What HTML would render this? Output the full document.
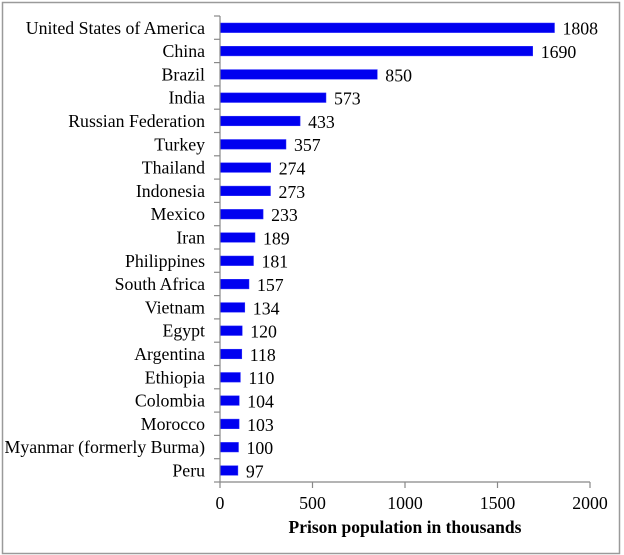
<!DOCTYPE html>
<html><head><style>body{margin:0;background:#fff}svg{display:block}</style></head><body>
<svg width="624" height="555" xmlns="http://www.w3.org/2000/svg" font-family="Liberation Serif, serif">
<rect x="2.5" y="2.5" width="617" height="551" fill="#fff" stroke="#9a9a9a" stroke-width="1.5"/>
<g fill="#0000f0" stroke="#3030ff" stroke-width="0.5">
<rect x="220" y="23" width="334.5" height="9.6"/>
<rect x="220" y="46.3" width="312.7" height="9.6"/>
<rect x="220" y="69.6" width="157.3" height="9.6"/>
<rect x="220" y="92.9" width="106" height="9.6"/>
<rect x="220" y="116.2" width="80.1" height="9.6"/>
<rect x="220" y="139.5" width="66" height="9.6"/>
<rect x="220" y="162.8" width="50.7" height="9.6"/>
<rect x="220" y="186.1" width="50.5" height="9.6"/>
<rect x="220" y="209.4" width="43.1" height="9.6"/>
<rect x="220" y="232.7" width="35" height="9.6"/>
<rect x="220" y="256" width="33.5" height="9.6"/>
<rect x="220" y="279.3" width="29" height="9.6"/>
<rect x="220" y="302.6" width="24.8" height="9.6"/>
<rect x="220" y="325.9" width="22.2" height="9.6"/>
<rect x="220" y="349.2" width="21.8" height="9.6"/>
<rect x="220" y="372.5" width="20.4" height="9.6"/>
<rect x="220" y="395.8" width="19.2" height="9.6"/>
<rect x="220" y="419.1" width="19.1" height="9.6"/>
<rect x="220" y="442.4" width="18.5" height="9.6"/>
<rect x="220" y="465.7" width="17.9" height="9.6"/>
</g>
<g stroke="#888" stroke-width="1.2">
<line x1="220" y1="16" x2="220" y2="482"/>
<line x1="220" y1="482" x2="590" y2="482"/>
<line x1="220" y1="482" x2="220" y2="488"/><line x1="312.5" y1="482" x2="312.5" y2="488"/><line x1="405" y1="482" x2="405" y2="488"/><line x1="497.5" y1="482" x2="497.5" y2="488"/><line x1="590" y1="482" x2="590" y2="488"/>
<line x1="214" y1="16" x2="220" y2="16"/><line x1="214" y1="39.3" x2="220" y2="39.3"/><line x1="214" y1="62.6" x2="220" y2="62.6"/><line x1="214" y1="85.9" x2="220" y2="85.9"/><line x1="214" y1="109.2" x2="220" y2="109.2"/><line x1="214" y1="132.5" x2="220" y2="132.5"/><line x1="214" y1="155.8" x2="220" y2="155.8"/><line x1="214" y1="179.1" x2="220" y2="179.1"/><line x1="214" y1="202.4" x2="220" y2="202.4"/><line x1="214" y1="225.7" x2="220" y2="225.7"/><line x1="214" y1="249" x2="220" y2="249"/><line x1="214" y1="272.3" x2="220" y2="272.3"/><line x1="214" y1="295.6" x2="220" y2="295.6"/><line x1="214" y1="318.9" x2="220" y2="318.9"/><line x1="214" y1="342.2" x2="220" y2="342.2"/><line x1="214" y1="365.5" x2="220" y2="365.5"/><line x1="214" y1="388.8" x2="220" y2="388.8"/><line x1="214" y1="412.1" x2="220" y2="412.1"/><line x1="214" y1="435.4" x2="220" y2="435.4"/><line x1="214" y1="458.7" x2="220" y2="458.7"/><line x1="214" y1="482" x2="220" y2="482"/>
</g>
<g font-size="17.8" text-anchor="end" fill="#000">
<text x="205" y="33.8">United States of America</text>
<text x="205" y="57.1">China</text>
<text x="205" y="80.4">Brazil</text>
<text x="205" y="103.7">India</text>
<text x="205" y="127">Russian Federation</text>
<text x="205" y="150.3">Turkey</text>
<text x="205" y="173.6">Thailand</text>
<text x="205" y="196.9">Indonesia</text>
<text x="205" y="220.2">Mexico</text>
<text x="205" y="243.5">Iran</text>
<text x="205" y="266.8">Philippines</text>
<text x="205" y="290.1">South Africa</text>
<text x="205" y="313.4">Vietnam</text>
<text x="205" y="336.7">Egypt</text>
<text x="205" y="360">Argentina</text>
<text x="205" y="383.3">Ethiopia</text>
<text x="205" y="406.6">Colombia</text>
<text x="205" y="429.9">Morocco</text>
<text x="205" y="453.2">Myanmar (formerly Burma)</text>
<text x="205" y="476.5">Peru</text>
</g>
<g font-size="17.8" fill="#000">
<text x="562.5" y="34.7">1808</text>
<text x="540.7" y="58">1690</text>
<text x="385.3" y="81.3">850</text>
<text x="334" y="104.6">573</text>
<text x="308.1" y="127.9">433</text>
<text x="294" y="151.2">357</text>
<text x="278.7" y="174.5">274</text>
<text x="278.5" y="197.8">273</text>
<text x="271.1" y="221.1">233</text>
<text x="263" y="244.4">189</text>
<text x="261.5" y="267.7">181</text>
<text x="257" y="291">157</text>
<text x="252.8" y="314.3">134</text>
<text x="250.2" y="337.6">120</text>
<text x="249.8" y="360.9">118</text>
<text x="248.4" y="384.2">110</text>
<text x="247.2" y="407.5">104</text>
<text x="247.1" y="430.8">103</text>
<text x="246.5" y="454.1">100</text>
<text x="245.9" y="477.4">97</text>
</g>
<g font-size="17.8" text-anchor="middle" fill="#000">
<text x="220" y="509">0</text><text x="312.5" y="509">500</text><text x="405" y="509">1000</text><text x="497.5" y="509">1500</text><text x="590" y="509">2000</text>
</g>
<text x="405" y="533" font-size="17.5" font-weight="bold" text-anchor="middle">Prison population in thousands</text>
</svg>
</body></html>
